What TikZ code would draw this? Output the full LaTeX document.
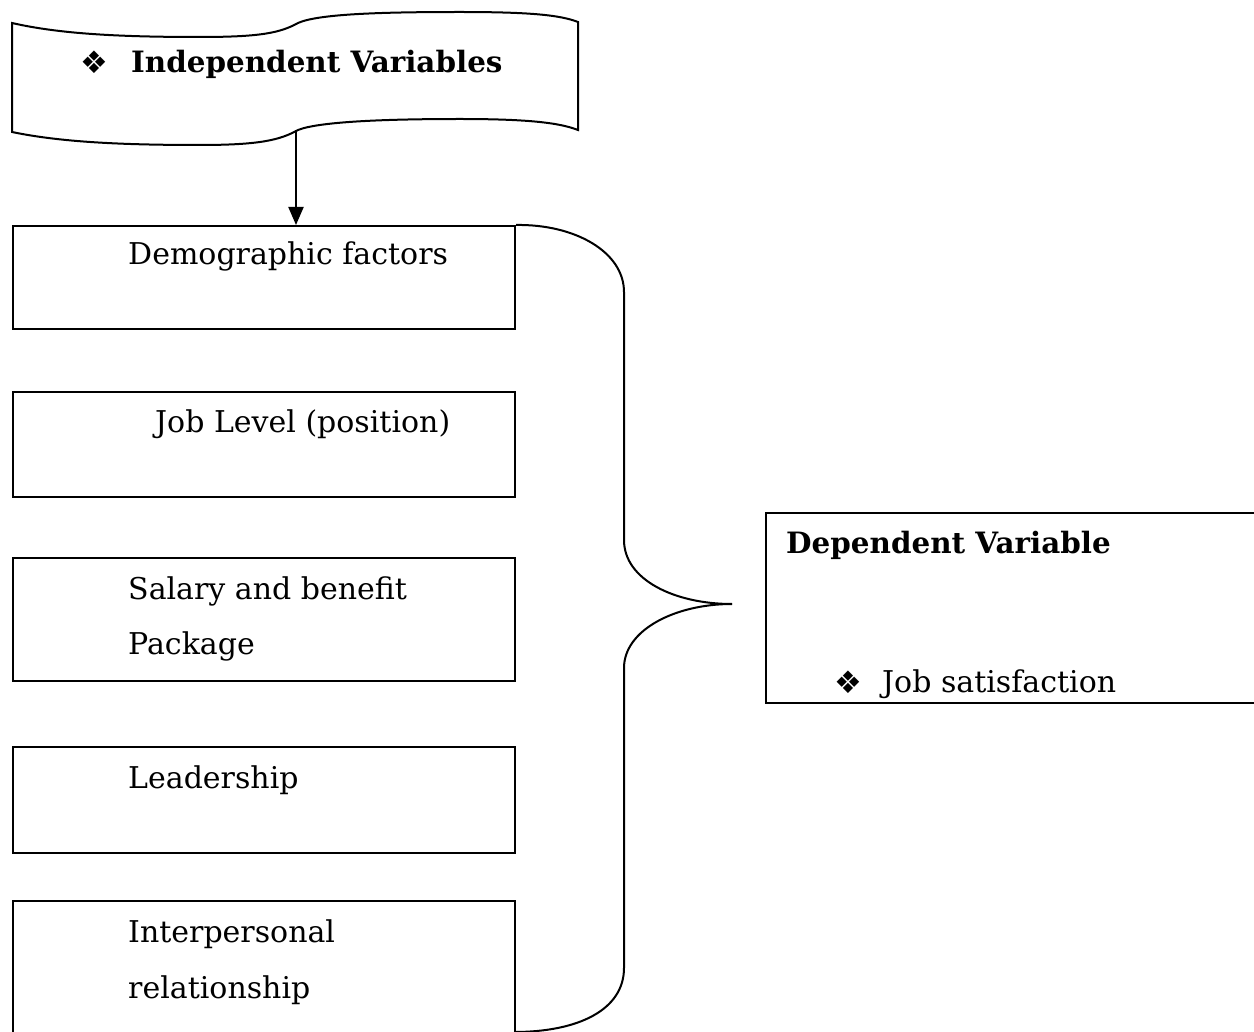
\documentclass[tikz,border=0pt]{standalone}
\usepackage{fontspec}
\setmainfont{DejaVu Serif}
\newfontfamily\symfont{DejaVu Sans}
\usetikzlibrary{arrows.meta}
\begin{document}
\begin{tikzpicture}[x=1pt,y=-1pt,
  line/.style={draw=black,line width=2pt},
  box/.style={line,rectangle,anchor=north west,inner sep=0pt},
  txt/.style={anchor=base west,inner sep=0pt,font=\fontsize{30}{36}\selectfont},
  btxt/.style={txt,font=\fontsize{29.4}{36}\selectfont\bfseries},
  sym/.style={anchor=base west,inner sep=0pt,font=\symfont\fontsize{31}{36}\selectfont}]
\useasboundingbox (0,0) rectangle (1254,1032);
\clip (0,0) rectangle (1254,1032);
% wave (independent variables)
\draw[line] (12,23) .. controls (60,34) and (120,37) .. (200,37)
  .. controls (260,37) and (280,33) .. (298,23)
  .. controls (318,14) and (380,12) .. (460,12)
  .. controls (530,12) and (560,15) .. (578,22)
  -- (578,130)
  .. controls (560,123) and (530,119) .. (460,119)
  .. controls (380,119) and (318,122) .. (298,130)
  .. controls (280,140) and (260,145) .. (200,145)
  .. controls (120,145) and (60,142) .. (12,132) -- cycle;
\coordinate (wavebot) at (296,130);
\node[sym] (bul1) at (80,74) {❖};
\node[btxt] (indep) at (131,73) {Independent Variables};
% boxes
\node[box,minimum width=502pt,minimum height=103pt] (b1) at (12,225) {};
\node[box,minimum width=502pt,minimum height=105pt] (b2) at (12,391) {};
\node[box,minimum width=502pt,minimum height=123pt] (b3) at (12,557) {};
\node[box,minimum width=502pt,minimum height=106pt] (b4) at (12,746) {};
\node[box,minimum width=502pt,minimum height=160pt] (b5) at (12,900) {};
\node[txt] (t1) at (128,265) {Demographic factors};
\node[txt] (t2) at (155,432) {Job Level (position)};
\node[txt] (t3a) at (128,599) {Salary and benefit};
\node[txt] (t3b) at (128,654) {Package};
\node[txt] (t4) at (128,788) {Leadership};
\node[txt] (t5a) at (128,942) {Interpersonal};
\node[txt] (t5b) at (128,998) {relationship};
% arrow
\draw[line,-{Triangle[length=18pt,width=15pt]}] (wavebot) -- (b1.north -| wavebot);
% brace
\coordinate (tip) at (732,604);
\coordinate (braceend) at (514,1032);
\draw[line] (b1.north east) .. controls (575,224) and (624,252) .. (624,292)
  -- (624,540) .. controls (624,580) and (675,604) .. (tip);
\draw[line] (tip) .. controls (675,604) and (624,630) .. (624,668)
  -- (624,968) .. controls (624,1010) and (578,1032) .. (braceend);
% dependent box
\node[box,minimum width=489pt,minimum height=190pt] (dep) at (765,512) {};
\node[btxt] (dept) at (786,553) {Dependent Variable};
\node[sym] (bul2) at (834,693) {❖};
\node[txt] (js) at (882,692) {Job satisfaction};
\end{tikzpicture}
\end{document}
